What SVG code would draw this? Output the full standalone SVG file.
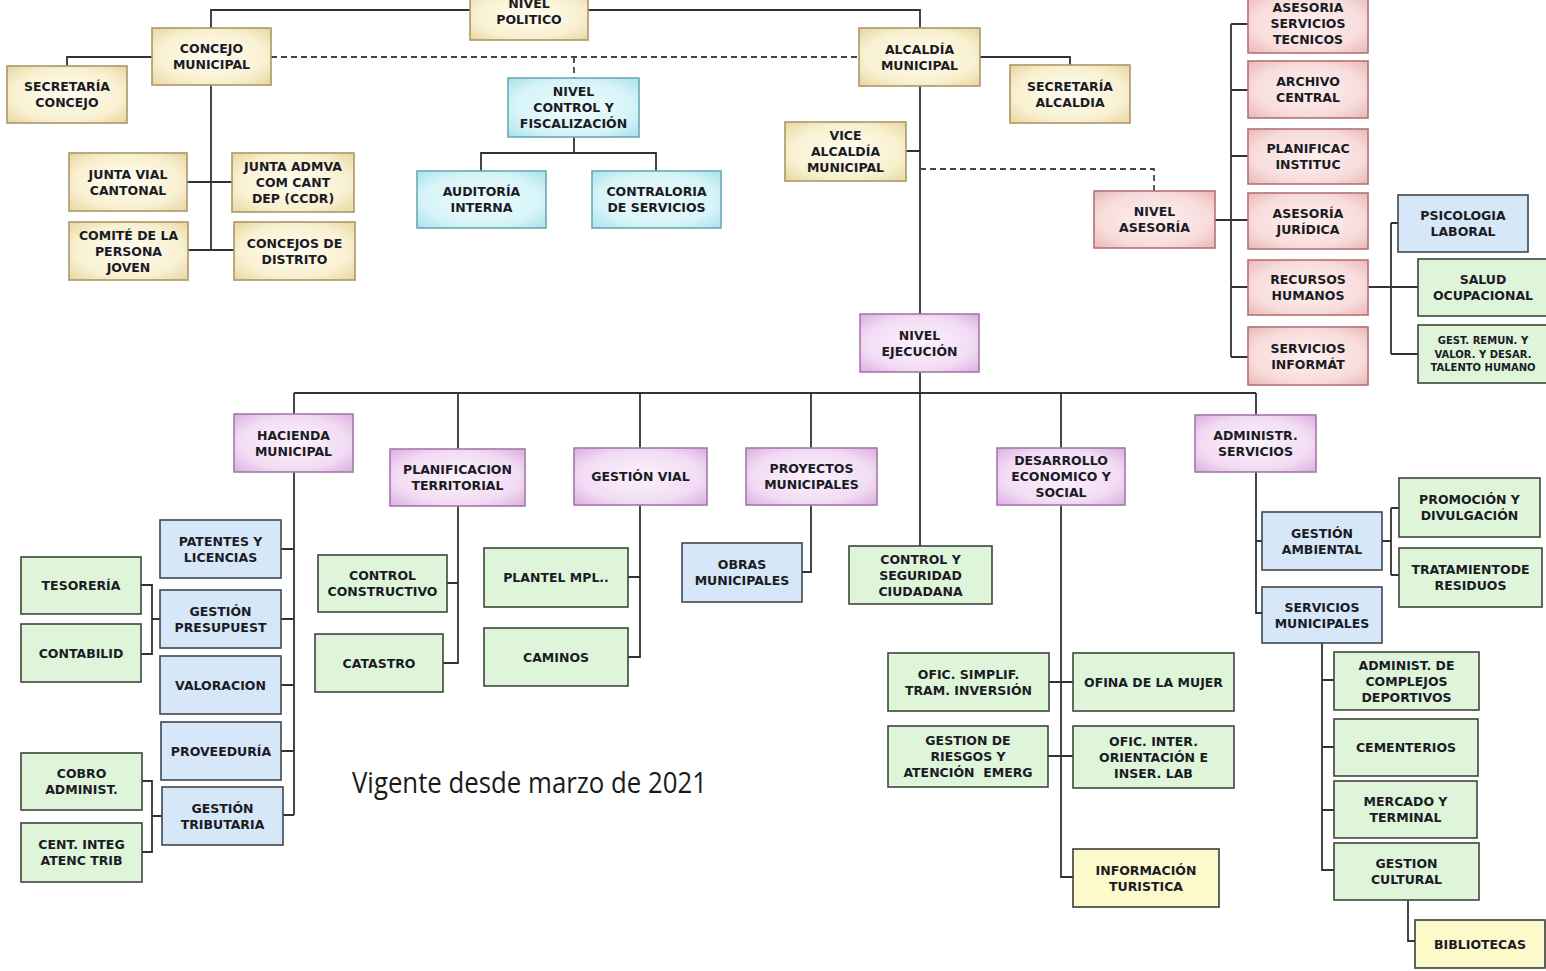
<svg xmlns="http://www.w3.org/2000/svg" width="1546" height="971" viewBox="0 0 1546 971">
<defs>
<radialGradient id="gBeige" cx="50%" cy="50%" r="70%"><stop offset="0%" stop-color="#fffdf2"/><stop offset="65%" stop-color="#f8f0d0"/><stop offset="100%" stop-color="#e8d6a0"/></radialGradient>
<radialGradient id="gCyan" cx="50%" cy="50%" r="70%"><stop offset="0%" stop-color="#effcfd"/><stop offset="65%" stop-color="#d6f4f8"/><stop offset="100%" stop-color="#a9e2ea"/></radialGradient>
<radialGradient id="gPink" cx="50%" cy="50%" r="70%"><stop offset="0%" stop-color="#fdf0f0"/><stop offset="65%" stop-color="#f8dcdc"/><stop offset="100%" stop-color="#eab7b7"/></radialGradient>
<radialGradient id="gPurple" cx="50%" cy="50%" r="70%"><stop offset="0%" stop-color="#fcf1fc"/><stop offset="65%" stop-color="#f2dcf4"/><stop offset="100%" stop-color="#dcaee0"/></radialGradient>
</defs>
<style>
rect{stroke-width:1.6}
.bg rect{fill:url(#gBeige);stroke:#ab9868}
.cy rect{fill:url(#gCyan);stroke:#6aaab5}
.pk rect{fill:url(#gPink);stroke:#b57272}
.pu rect{fill:url(#gPurple);stroke:#a27aa8}
.bl rect{fill:#d6e7f8;stroke:#3e4853}
.gr rect{fill:#def5da;stroke:#3c463c}
.ye rect{fill:#fcf9cb;stroke:#3c3c3c}
text{font-family:"DejaVu Sans","Liberation Sans",sans-serif;font-weight:bold;font-size:12.5px;fill:#1b1b24;text-anchor:middle}
text.sm{font-size:10px}
#connectors path{fill:none;stroke:#333;stroke-width:1.8}
#connectors path.d{stroke-dasharray:6 4;stroke:#444}
.note{font-family:"Open Sans","Liberation Sans",sans-serif;font-weight:normal;font-size:29px;fill:#1a1a1a;text-anchor:start}
</style>
<rect x="0" y="0" width="1546" height="971" fill="#ffffff" style="stroke:none"/>
<g id="connectors">
<path d="M211,28 V10 H920 V28"/>
<path d="M152,57 H67 V66"/>
<path d="M211,85 V250 M187,182 H232 M188,250 H234"/>
<path d="M980,57 H1070 V65"/>
<path d="M920,86 V314 M906,151 H920"/>
<path d="M574,137 V153 M481,171 V153 H656 V171"/>
<path d="M1215,220 H1248 M1231,24 V357 M1231,24 H1248 M1231,90 H1248 M1231,156 H1248 M1231,287 H1248 M1231,357 H1248"/>
<path d="M1368,287 H1418 M1391,223 V354 M1391,223 H1398 M1391,354 H1418"/>
<path d="M920,372 V546 M294,393 H1256 M294,393 V414 M458,393 V449 M640,393 V448 M811,393 V448 M1061,393 V448 M1256,393 V415"/>
<path d="M294,472 V815 M281,549 H294 M281,619 H294 M281,685 H294 M281,751 H294 M283,815 H294"/>
<path d="M141,585 H152 V654 H141 M152,619 H160"/>
<path d="M142,781 H152 V852 H142 M152,816 H162"/>
<path d="M458,506 V663 H443 M447,583 H458"/>
<path d="M640,505 V657 H628 M628,577 H640"/>
<path d="M811,505 V572 H802"/>
<path d="M1061,505 V877 H1073 M1049,682 H1073 M1048,756 H1073"/>
<path d="M1256,472 V613 H1262 M1256,541 H1262"/>
<path d="M1382,541 H1391 M1391,508 V575 M1391,508 H1399 M1391,575 H1399"/>
<path d="M1322,643 V870 H1334 M1322,680 H1334 M1322,747 H1334 M1322,810 H1334"/>
<path d="M1408,900 V941 H1415"/>
<path class="d" d="M271,57 H859"/>
<path class="d" d="M574,57 V78"/>
<path class="d" d="M920,169 H1154 V191"/>
</g>
<g id="n_politico" class="bg"><rect x="470" y="-8" width="118" height="48"/><text x="529" y="8">NIVEL</text><text x="529" y="24">POLITICO</text></g>
<g id="n_concejo" class="bg"><rect x="152" y="28" width="119" height="57"/><text x="211.5" y="53">CONCEJO</text><text x="211.5" y="69">MUNICIPAL</text></g>
<g id="n_sec_concejo" class="bg"><rect x="7" y="66" width="120" height="57"/><text x="67" y="91">SECRETARÍA</text><text x="67" y="107">CONCEJO</text></g>
<g id="n_junta_vial" class="bg"><rect x="69" y="153" width="118" height="58"/><text x="128" y="178.5">JUNTA VIAL</text><text x="128" y="194.5">CANTONAL</text></g>
<g id="n_junta_admva" class="bg"><rect x="232" y="153" width="122" height="59"/><text x="293" y="171">JUNTA ADMVA</text><text x="293" y="187">COM CANT</text><text x="293" y="203">DEP (CCDR)</text></g>
<g id="n_comite" class="bg"><rect x="69" y="222" width="119" height="58"/><text x="128.5" y="239.5">COMITÉ DE LA</text><text x="128.5" y="255.5">PERSONA</text><text x="128.5" y="271.5">JOVEN</text></g>
<g id="n_concejos_distrito" class="bg"><rect x="234" y="222" width="121" height="58"/><text x="294.5" y="247.5">CONCEJOS DE</text><text x="294.5" y="263.5">DISTRITO</text></g>
<g id="n_alcaldia" class="bg"><rect x="859" y="28" width="121" height="58"/><text x="919.5" y="53.5">ALCALDÍA</text><text x="919.5" y="69.5">MUNICIPAL</text></g>
<g id="n_sec_alcaldia" class="bg"><rect x="1010" y="65" width="120" height="58"/><text x="1070" y="90.5">SECRETARÍA</text><text x="1070" y="106.5">ALCALDIA</text></g>
<g id="n_vice" class="bg"><rect x="785" y="122" width="121" height="59"/><text x="845.5" y="140">VICE</text><text x="845.5" y="156">ALCALDÍA</text><text x="845.5" y="172">MUNICIPAL</text></g>
<g id="n_control" class="cy"><rect x="508" y="78" width="131" height="59"/><text x="573.5" y="96">NIVEL</text><text x="573.5" y="112">CONTROL Y</text><text x="573.5" y="128">FISCALIZACIÓN</text></g>
<g id="n_auditoria" class="cy"><rect x="417" y="171" width="129" height="57"/><text x="481.5" y="196">AUDITORÍA</text><text x="481.5" y="212">INTERNA</text></g>
<g id="n_contraloria" class="cy"><rect x="592" y="171" width="129" height="57"/><text x="656.5" y="196">CONTRALORIA</text><text x="656.5" y="212">DE SERVICIOS</text></g>
<g id="n_asesoria_nivel" class="pk"><rect x="1094" y="191" width="121" height="57"/><text x="1154.5" y="216">NIVEL</text><text x="1154.5" y="232">ASESORÍA</text></g>
<g id="n_ast" class="pk"><rect x="1248" y="-6" width="120" height="59"/><text x="1308" y="12">ASESORIA</text><text x="1308" y="28">SERVICIOS</text><text x="1308" y="44">TECNICOS</text></g>
<g id="n_archivo" class="pk"><rect x="1248" y="61" width="120" height="57"/><text x="1308" y="86">ARCHIVO</text><text x="1308" y="102">CENTRAL</text></g>
<g id="n_planific_inst" class="pk"><rect x="1248" y="129" width="120" height="55"/><text x="1308" y="153">PLANIFICAC</text><text x="1308" y="169">INSTITUC</text></g>
<g id="n_juridica" class="pk"><rect x="1248" y="193" width="120" height="56"/><text x="1308" y="217.5">ASESORÍA</text><text x="1308" y="233.5">JURÍDICA</text></g>
<g id="n_rrhh" class="pk"><rect x="1248" y="260" width="120" height="55"/><text x="1308" y="284">RECURSOS</text><text x="1308" y="300">HUMANOS</text></g>
<g id="n_informat" class="pk"><rect x="1248" y="327" width="120" height="58"/><text x="1308" y="352.5">SERVICIOS</text><text x="1308" y="368.5">INFORMÁT</text></g>
<g id="n_psicologia" class="bl"><rect x="1398" y="195" width="130" height="57"/><text x="1463" y="220">PSICOLOGIA</text><text x="1463" y="236">LABORAL</text></g>
<g id="n_salud" class="gr"><rect x="1418" y="259" width="130" height="57"/><text x="1483" y="284">SALUD</text><text x="1483" y="300">OCUPACIONAL</text></g>
<g id="n_gest_remun" class="gr"><rect x="1418" y="325" width="130" height="58"/><text class="sm" x="1483" y="344">GEST. REMUN. Y</text><text class="sm" x="1483" y="357.5">VALOR. Y DESAR.</text><text class="sm" x="1483" y="371">TALENTO HUMANO</text></g>
<g id="n_ejecucion" class="pu"><rect x="860" y="314" width="119" height="58"/><text x="919.5" y="339.5">NIVEL</text><text x="919.5" y="355.5">EJECUCIÓN</text></g>
<g id="n_hacienda" class="pu"><rect x="234" y="414" width="119" height="58"/><text x="293.5" y="439.5">HACIENDA</text><text x="293.5" y="455.5">MUNICIPAL</text></g>
<g id="n_planif_terr" class="pu"><rect x="390" y="449" width="135" height="57"/><text x="457.5" y="474">PLANIFICACION</text><text x="457.5" y="490">TERRITORIAL</text></g>
<g id="n_gestion_vial" class="pu"><rect x="574" y="448" width="133" height="57"/><text x="640.5" y="481">GESTIÓN VIAL</text></g>
<g id="n_proyectos" class="pu"><rect x="746" y="448" width="131" height="57"/><text x="811.5" y="473">PROYECTOS</text><text x="811.5" y="489">MUNICIPALES</text></g>
<g id="n_desarrollo" class="pu"><rect x="997" y="448" width="128" height="57"/><text x="1061" y="465">DESARROLLO</text><text x="1061" y="481">ECONOMICO Y</text><text x="1061" y="497">SOCIAL</text></g>
<g id="n_admin_serv" class="pu"><rect x="1195" y="415" width="121" height="57"/><text x="1255.5" y="440">ADMINISTR.</text><text x="1255.5" y="456">SERVICIOS</text></g>
<g id="n_patentes" class="bl"><rect x="160" y="520" width="121" height="58"/><text x="220.5" y="545.5">PATENTES Y</text><text x="220.5" y="561.5">LICENCIAS</text></g>
<g id="n_presupuest" class="bl"><rect x="160" y="590" width="121" height="58"/><text x="220.5" y="615.5">GESTIÓN</text><text x="220.5" y="631.5">PRESUPUEST</text></g>
<g id="n_valoracion" class="bl"><rect x="160" y="656" width="121" height="58"/><text x="220.5" y="689.5">VALORACION</text></g>
<g id="n_proveeduria" class="bl"><rect x="161" y="722" width="120" height="58"/><text x="221" y="755.5">PROVEEDURÍA</text></g>
<g id="n_tributaria" class="bl"><rect x="162" y="787" width="121" height="58"/><text x="222.5" y="812.5">GESTIÓN</text><text x="222.5" y="828.5">TRIBUTARIA</text></g>
<g id="n_obras" class="bl"><rect x="682" y="543" width="120" height="59"/><text x="742" y="569">OBRAS</text><text x="742" y="585">MUNICIPALES</text></g>
<g id="n_gest_amb" class="bl"><rect x="1262" y="512" width="120" height="58"/><text x="1322" y="537.5">GESTIÓN</text><text x="1322" y="553.5">AMBIENTAL</text></g>
<g id="n_serv_mun" class="bl"><rect x="1262" y="587" width="120" height="56"/><text x="1322" y="611.5">SERVICIOS</text><text x="1322" y="627.5">MUNICIPALES</text></g>
<g id="n_tesoreria" class="gr"><rect x="21" y="557" width="120" height="57"/><text x="81" y="590">TESORERÍA</text></g>
<g id="n_contabilid" class="gr"><rect x="21" y="624" width="120" height="58"/><text x="81" y="657.5">CONTABILID</text></g>
<g id="n_cobro" class="gr"><rect x="21" y="753" width="121" height="57"/><text x="81.5" y="778">COBRO</text><text x="81.5" y="794">ADMINIST.</text></g>
<g id="n_cent_integ" class="gr"><rect x="21" y="823" width="121" height="59"/><text x="81.5" y="849">CENT. INTEG</text><text x="81.5" y="865">ATENC TRIB</text></g>
<g id="n_control_constr" class="gr"><rect x="318" y="555" width="129" height="57"/><text x="382.5" y="580">CONTROL</text><text x="382.5" y="596">CONSTRUCTIVO</text></g>
<g id="n_catastro" class="gr"><rect x="315" y="634" width="128" height="58"/><text x="379" y="667.5">CATASTRO</text></g>
<g id="n_plantel" class="gr"><rect x="484" y="548" width="144" height="59"/><text x="556" y="582">PLANTEL MPL..</text></g>
<g id="n_caminos" class="gr"><rect x="484" y="628" width="144" height="58"/><text x="556" y="661.5">CAMINOS</text></g>
<g id="n_control_seg" class="gr"><rect x="849" y="546" width="143" height="58"/><text x="920.5" y="563.5">CONTROL Y</text><text x="920.5" y="579.5">SEGURIDAD</text><text x="920.5" y="595.5">CIUDADANA</text></g>
<g id="n_ofic_simplif" class="gr"><rect x="888" y="653" width="161" height="58"/><text x="968.5" y="678.5">OFIC. SIMPLIF.</text><text x="968.5" y="694.5">TRAM. INVERSIÓN</text></g>
<g id="n_ofina_mujer" class="gr"><rect x="1073" y="653" width="161" height="58"/><text x="1153.5" y="686.5">OFINA DE LA MUJER</text></g>
<g id="n_riesgos" class="gr"><rect x="888" y="726" width="160" height="61"/><text x="968" y="745">GESTION DE</text><text x="968" y="761">RIESGOS Y</text><text x="968" y="777" xml:space="preserve">ATENCIÓN  EMERG</text></g>
<g id="n_ofic_inter" class="gr"><rect x="1073" y="726" width="161" height="62"/><text x="1153.5" y="745.5">OFIC. INTER.</text><text x="1153.5" y="761.5">ORIENTACIÓN E</text><text x="1153.5" y="777.5">INSER. LAB</text></g>
<g id="n_promocion" class="gr"><rect x="1399" y="478" width="141" height="59"/><text x="1469.5" y="504">PROMOCIÓN Y</text><text x="1469.5" y="520">DIVULGACIÓN</text></g>
<g id="n_tratamiento" class="gr"><rect x="1399" y="548" width="143" height="59"/><text x="1470.5" y="574">TRATAMIENTODE</text><text x="1470.5" y="590">RESIDUOS</text></g>
<g id="n_complejos" class="gr"><rect x="1334" y="652" width="145" height="58"/><text x="1406.5" y="669.5">ADMINIST. DE</text><text x="1406.5" y="685.5">COMPLEJOS</text><text x="1406.5" y="701.5">DEPORTIVOS</text></g>
<g id="n_cementerios" class="gr"><rect x="1334" y="719" width="144" height="57"/><text x="1406" y="752">CEMENTERIOS</text></g>
<g id="n_mercado" class="gr"><rect x="1334" y="781" width="143" height="57"/><text x="1405.5" y="806">MERCADO Y</text><text x="1405.5" y="822">TERMINAL</text></g>
<g id="n_gest_cultural" class="gr"><rect x="1334" y="843" width="145" height="57"/><text x="1406.5" y="868">GESTION</text><text x="1406.5" y="884">CULTURAL</text></g>
<g id="n_info_turistica" class="ye"><rect x="1073" y="849" width="146" height="58"/><text x="1146" y="874.5">INFORMACIÓN</text><text x="1146" y="890.5">TURISTICA</text></g>
<g id="n_bibliotecas" class="ye"><rect x="1415" y="920" width="130" height="48"/><text x="1480" y="948.5">BIBLIOTECAS</text></g>
<text class="note" x="352" y="793" textLength="355" lengthAdjust="spacingAndGlyphs">Vigente desde marzo de 2021</text>
</svg>
